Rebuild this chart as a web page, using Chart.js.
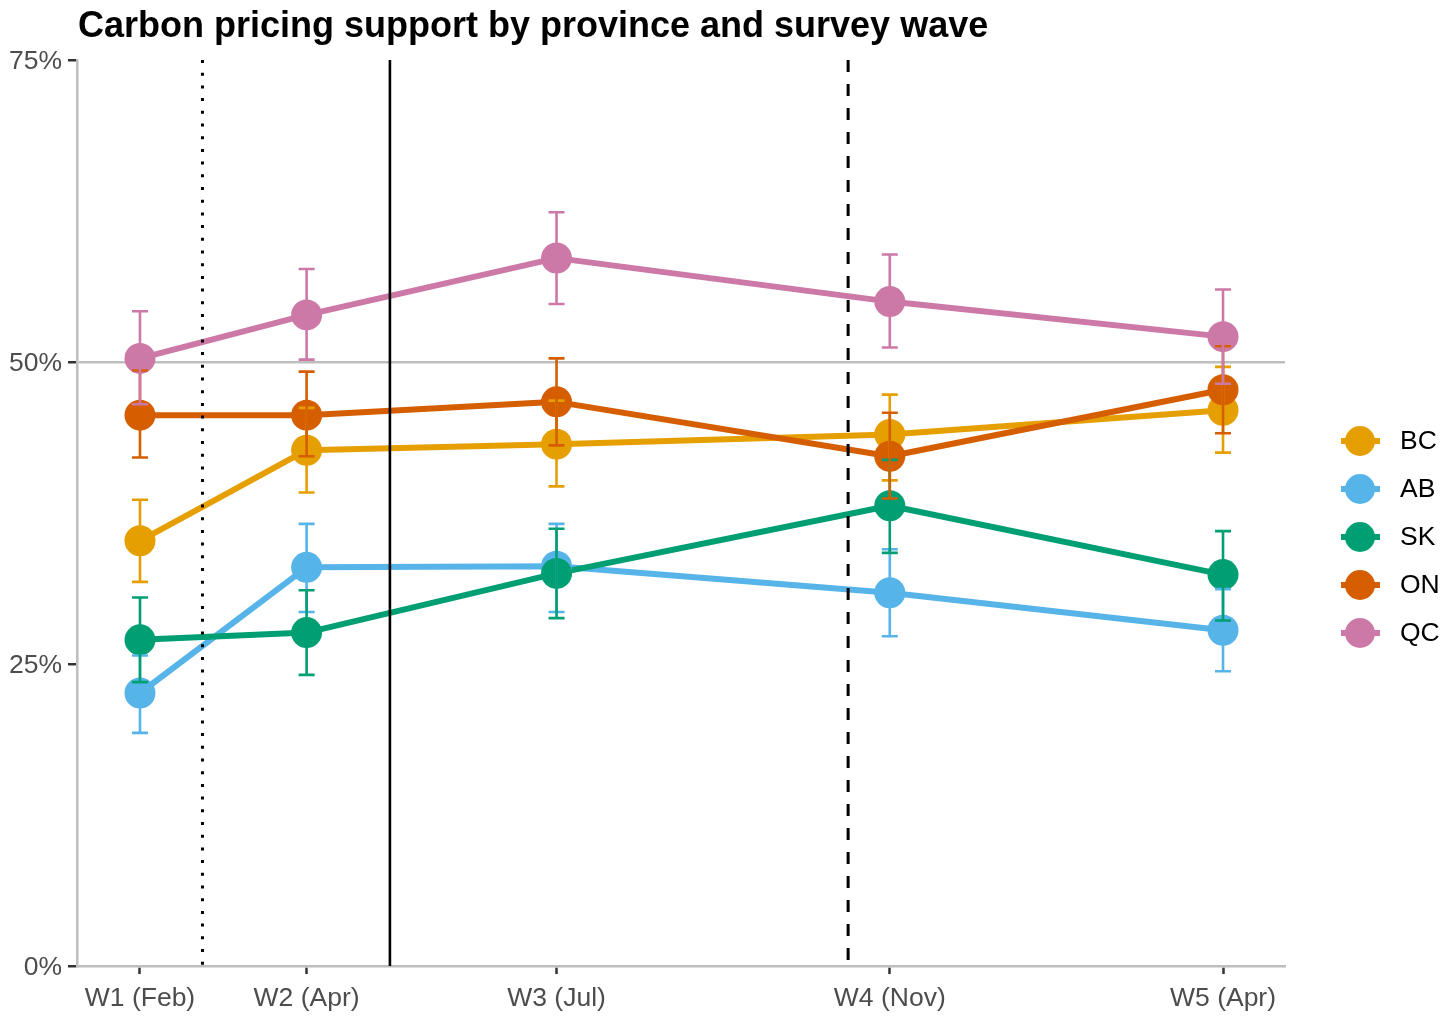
<!DOCTYPE html>
<html>
<head>
<meta charset="utf-8">
<script src="https://cdn.jsdelivr.net/npm/chart.js@4.4.1/dist/chart.umd.min.js"></script>
<style>
  html, body { margin: 0; padding: 0; background: #ffffff; }
  #c { display: block; }
</style>
</head>
<body>
<canvas id="c" width="1456" height="1023"></canvas>
<script>
// ---------- DATA ----------
const chartTitle = 'Carbon pricing support by province and survey wave';
const waveLabels = ['W1 (Feb)', 'W2 (Apr)', 'W3 (Jul)', 'W4 (Nov)', 'W5 (Apr)'];
const waveX = [1, 3, 6, 10, 14];
const provinces = ['BC', 'AB', 'SK', 'ON', 'QC'];

const bcVals = [35.2, 42.7, 43.2, 44.0, 46.0];
const bcLow  = [31.8, 39.2, 39.7, 40.2, 42.5];
const bcHigh = [38.6, 46.2, 46.8, 47.3, 49.6];

const abVals = [22.6, 33.0, 33.1, 30.9, 27.8];
const abLow  = [19.3, 29.3, 29.3, 27.3, 24.4];
const abHigh = [25.7, 36.6, 36.6, 34.5, 31.2];

const skVals = [27.0, 27.6, 32.5, 38.1, 32.4];
const skLow  = [23.5, 24.1, 28.8, 34.2, 28.6];
const skHigh = [30.5, 31.1, 36.2, 41.9, 36.0];

const onVals = [45.6, 45.6, 46.7, 42.2, 47.7];
const onLow  = [42.1, 42.2, 43.1, 38.7, 44.1];
const onHigh = [49.3, 49.2, 50.3, 45.8, 51.3];

const qcVals = [50.3, 53.9, 58.6, 55.0, 52.1];
const qcLow  = [46.5, 50.2, 54.8, 51.2, 48.2];
const qcHigh = [54.2, 57.7, 62.4, 58.9, 56.0];

const yTicks = [0, 25, 50, 75];
const yTickLabels = ['0%', '25%', '50%', '75%'];
const eventLineX = [1.75, 4, 9.5];

// ---------- STYLE ----------
const FONT = '"Liberation Sans", Arial, Helvetica, sans-serif';
const colors = ['#E69F00', '#56B4E9', '#009E73', '#D55E00', '#CC79A7'];
const eventDash = [[3, 9.7], [], [12, 12]];

const series = [
  { vals: bcVals, low: bcLow, high: bcHigh },
  { vals: abVals, low: abLow, high: abHigh },
  { vals: skVals, low: skLow, high: skHigh },
  { vals: onVals, low: onLow, high: onHigh },
  { vals: qcVals, low: qcLow, high: qcHigh }
];

const datasets = [];
series.forEach((s, i) => {
  const pts = waveX.map((x, j) => ({ x: x, y: s.vals[j] }));
  datasets.push({
    label: provinces[i] + '-line', data: pts,
    borderColor: colors[i], backgroundColor: colors[i],
    borderWidth: 6, pointRadius: 0, pointHoverRadius: 0,
    tension: 0, fill: false, order: 200 - i,
    borderJoinStyle: 'round', borderCapStyle: 'butt'
  });
  datasets.push({
    label: provinces[i], data: pts, showLine: false,
    pointRadius: 15.5, pointHoverRadius: 15.5,
    pointBackgroundColor: colors[i], pointBorderColor: colors[i],
    pointBorderWidth: 0, order: 100 - i
  });
});

const overlay = {
  id: 'overlay',
  afterDatasetsDraw(chart) {
    const ctx = chart.ctx, a = chart.chartArea, xs = chart.scales.x, ys = chart.scales.y;
    ctx.save();
    // event reference lines
    eventLineX.forEach((v, k) => {
      const px = xs.getPixelForValue(v);
      ctx.beginPath();
      ctx.strokeStyle = '#000000';
      ctx.lineWidth = k === 1 ? 2.6 : 3;
      ctx.lineCap = 'butt';
      ctx.setLineDash(eventDash[k]);
      ctx.moveTo(px, a.top);
      ctx.lineTo(px, a.bottom);
      ctx.stroke();
    });
    ctx.setLineDash([]);
    // error bars
    series.forEach((s, i) => {
      ctx.strokeStyle = colors[i];
      ctx.lineWidth = 2.6;
      waveX.forEach((xv, j) => {
        const px = xs.getPixelForValue(xv);
        const lo = ys.getPixelForValue(s.low[j]);
        const hi = ys.getPixelForValue(s.high[j]);
        ctx.beginPath();
        ctx.moveTo(px, lo); ctx.lineTo(px, hi);
        ctx.moveTo(px - 8, lo); ctx.lineTo(px + 8, lo);
        ctx.moveTo(px - 8, hi); ctx.lineTo(px + 8, hi);
        ctx.stroke();
      });
    });
    ctx.restore();
  },
  afterDraw(chart) {
    const ctx = chart.ctx, a = chart.chartArea;
    ctx.save();
    // title
    ctx.fillStyle = '#000000';
    ctx.font = 'bold 36px ' + FONT;
    ctx.textBaseline = 'alphabetic';
    ctx.textAlign = 'left';
    ctx.fillText(chartTitle, a.left + 1, 37);
    // legend
    const cx = a.right + 75;
    const top = (a.top + a.bottom) / 2 - 72;
    provinces.forEach((p, i) => {
      const cy = top + i * 48;
      ctx.strokeStyle = colors[i];
      ctx.lineWidth = 6;
      ctx.beginPath();
      ctx.moveTo(cx - 19, cy); ctx.lineTo(cx + 20, cy);
      ctx.stroke();
      ctx.fillStyle = colors[i];
      ctx.beginPath();
      ctx.arc(cx, cy, 15, 0, Math.PI * 2);
      ctx.fill();
      ctx.fillStyle = '#000000';
      ctx.font = '26.5px ' + FONT;
      ctx.textBaseline = 'middle';
      ctx.fillText(p, cx + 40, cy + 1);
    });
    ctx.restore();
  }
};

new Chart(document.getElementById('c'), {
  type: 'line',
  data: { datasets: datasets },
  plugins: [overlay],
  options: {
    responsive: false,
    animation: false,
    devicePixelRatio: 1,
    layout: { padding: { top: 60, right: 171, left: 0, bottom: 0 } },
    plugins: { legend: { display: false }, tooltip: { enabled: false }, title: { display: false } },
    events: [],
    scales: {
      x: {
        type: 'linear', min: 0.244, max: 14.744,
        afterBuildTicks: s => { s.ticks = waveX.map(v => ({ value: v })); },
        afterFit: s => { s.height = 57; },
        ticks: {
          callback: (v, idx) => waveLabels[idx],
          color: '#4d4d4d', font: { family: FONT, size: 26.5 },
          maxRotation: 0, minRotation: 0, autoSkip: false, padding: 9
        },
        grid: { drawOnChartArea: false, drawTicks: true, tickLength: 8, tickColor: '#333333', tickWidth: 2.5 },
        border: { display: true, color: '#bebebe', width: 2.5 }
      },
      y: {
        type: 'linear', min: 0, max: 75,
        afterBuildTicks: s => { s.ticks = yTicks.map(v => ({ value: v })); },
        afterFit: s => { s.width = 77; },
        ticks: {
          callback: (v, idx) => yTickLabels[idx],
          color: '#4d4d4d', font: { family: FONT, size: 26.5 }, padding: 6, labelOffset: 2
        },
        grid: {
          color: c => (c.tick && c.tick.value === 50) ? '#bebebe' : 'rgba(0,0,0,0)',
          lineWidth: 2.5, drawTicks: true, tickLength: 9, tickColor: '#333333', tickWidth: 2.5
        },
        border: { display: true, color: '#bebebe', width: 2.5 }
      }
    }
  }
});
</script>
</body>
</html>
